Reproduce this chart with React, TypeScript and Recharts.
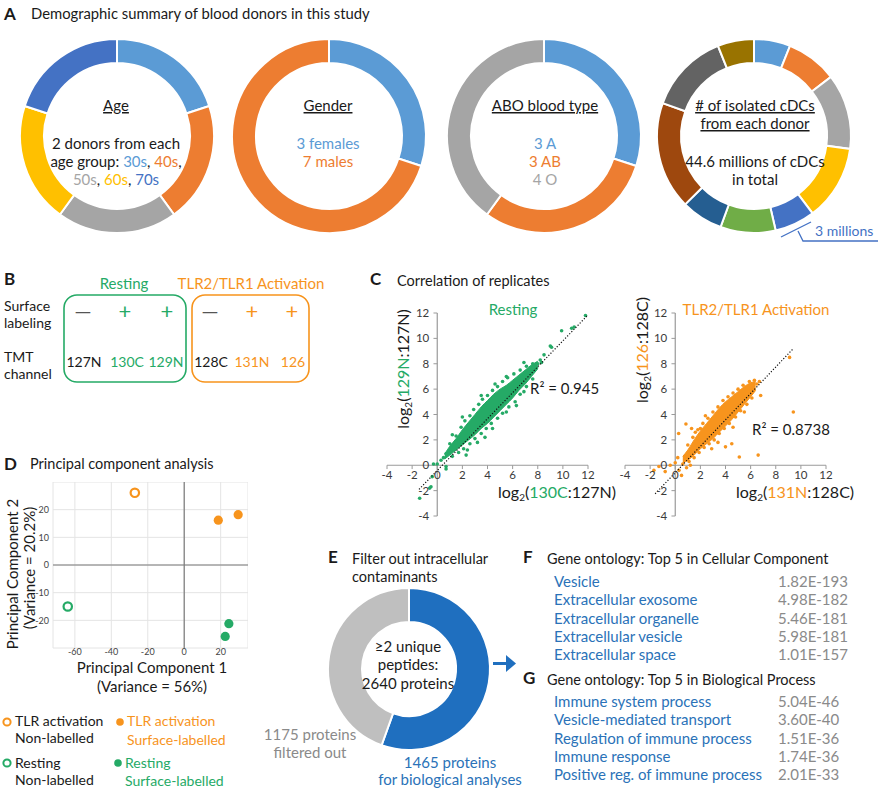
import React from 'react';
import {
  PieChart, Pie, Cell, ComposedChart, Area, Scatter, ScatterChart, XAxis, YAxis,
  ReferenceLine, ReferenceDot, CartesianGrid,
} from 'recharts';

// office palette used by the donuts
const OFFICE = ['#5B9BD5', '#ED7D31', '#A5A5A5', '#FFC000', '#4472C4', '#70AD47', '#255E91', '#9E480E', '#636363', '#997300'];
const GREEN = '#25AA66';
const ORANGE = '#F7941D';
const BLUE_TXT = '#2A72B8';
const GRAY_TXT = '#8A8A8A';

// A: donor demographics
const ageGroups = ['30s', '40s', '50s', '60s', '70s'];
const ageDonors = [2, 2, 2, 2, 2];
const genders = ['Female', 'Male'];
const genderCounts = [3, 7];
const bloodTypes = ['A', 'AB', 'O'];
const bloodCounts = [3, 3, 4];
const cdcDonors = ['D1', 'D2', 'D3', 'D4', 'D5', 'D6', 'D7', 'D8', 'D9', 'D10'];
const cdcMillions = [2.7, 3.8, 5.6, 5.6, 3.0, 4.1, 3.1, 8.0, 6.0, 2.7];

// C: correlation of replicates (dense core band + individual points)
const corrTicks = [-4, -2, 0, 2, 4, 6, 8, 10, 12];
const restingBand: [number, number, number][] = [
  [0.6, 0.5, 0.9], [1.0, 0.8, 1.5], [1.5, 1.2, 2.1], [2.0, 1.6, 2.8], [2.5, 2.0, 3.4], [3.0, 2.4, 4.0],
  [3.5, 2.9, 4.6], [4.0, 3.3, 5.1], [4.5, 3.8, 5.6], [5.0, 4.3, 6.0], [5.5, 4.8, 6.3], [6.0, 5.3, 6.7],
  [6.5, 5.9, 7.1], [7.0, 6.4, 7.5], [7.5, 7.0, 7.9], [8.0, 7.6, 8.2],
];
const restingPoints: [number, number][] = [
  [11.8, 11.8], [10.9, 10.9], [10.7, 10.8], [9.9, 10.6], [9.1, 9.3], [9.0, 9.4], [8.5, 8.7], [8.2, 8.3],
  [7.9, 7.7], [6.9, 8.1], [7.6, 8.0], [8.0, 8.0], [8.3, 8.1], [6.3, 4.7], [2.3, 0.8], [2.4, 1.2],
  [3.8, 2.2], [1.2, 2.4], [1.0, 1.7], [0.7, 0.9], [0.0, 0.1], [-0.3, 0.1], [0.7, -0.1], [-0.4, -0.9],
  [-0.6, -1.8], [-1.4, -2.6], [-0.5, -1.7], [0.7, -0.3], [0.3, 0.4], [0.5, 0.6],
  [1.5, 2.3], [1.9, 3.0], [2.2, 3.5], [2.6, 3.9], [2.9, 4.4], [3.3, 4.8], [3.6, 5.2], [4.0, 5.5],
  [4.4, 5.9], [4.8, 6.2], [5.2, 6.6], [5.6, 6.9], [6.1, 7.2], [6.6, 7.5], [7.1, 7.8], [2.0, 3.8],
  [3.5, 5.5], [4.6, 6.4], [5.5, 7.0],
  [1.2, 0.7], [1.7, 1.0], [2.1, 1.3], [2.6, 1.7], [3.0, 2.1], [3.5, 2.5], [3.9, 2.9], [4.3, 3.3],
  [4.8, 3.7], [5.2, 4.1], [5.7, 4.6], [6.2, 5.0], [6.6, 5.6], [7.1, 6.2], [7.6, 6.8], [3.2, 1.8],
  [4.4, 2.9], [5.5, 4.2], [6.9, 5.8],
];
const restingTrend: [number, number][] = [[-1.45, -1.9], [12.0, 11.85]];

const activationBand: [number, number, number][] = [
  [0.6, 0.2, 0.7], [1.0, 0.4, 1.2], [1.5, 0.8, 2.0], [2.0, 1.3, 2.7], [2.5, 1.7, 3.3], [3.0, 2.1, 3.9],
  [3.5, 2.6, 4.5], [4.0, 3.1, 5.0], [4.5, 3.6, 5.4], [5.0, 4.2, 5.8], [5.5, 4.8, 6.2], [6.0, 5.4, 6.5],
  [6.4, 5.9, 6.6],
];
const activationPoints: [number, number][] = [
  [9.1, 8.5], [9.4, 4.2], [6.6, 0.8], [5.1, 0.65], [6.7, 6.6], [6.5, 6.4], [6.8, 5.5], [0.85, 3.25],
  [0.27, 2.5], [1.6, 2.6], [2.0, 2.9], [-1.3, -0.1], [-1.7, -0.4], [0.3, -0.4], [0.5, -0.8], [-0.4, 0.0],
  [4.0, 1.45], [2.9, 1.3], [4.5, 1.7], [0.0, 0.2], [0.6, 0.1], [0.9, -0.2], [1.2, 0.0], [-0.8, -0.5], [0.2, 0.6],
  [1.0, 1.6], [1.4, 2.2], [1.8, 2.8], [2.2, 3.3], [2.6, 3.7], [3.0, 4.2], [3.4, 4.6], [3.8, 5.1],
  [4.2, 5.4], [4.6, 5.7], [5.0, 6.0], [5.4, 6.3], [5.9, 6.6], [6.3, 6.7], [1.3, 2.9], [2.4, 3.9],
  [1.1, 0.3], [1.5, 0.6], [1.9, 1.0], [2.3, 1.4], [2.7, 1.7], [3.1, 2.0], [3.5, 2.5], [3.9, 2.9],
  [4.3, 3.3], [4.8, 3.8], [5.2, 4.3], [5.7, 4.8], [6.1, 5.3], [3.4, 1.8], [4.6, 3.0], [5.5, 4.2],
];
const activationTrend: [number, number][] = [[-1.6, -2.25], [9.4, 9.2]];

// D: PCA
const pcaXTicks = [-60, -40, -20, 0, 20];
const pcaYTicks = [-20, -10, 0, 10, 20];
const pcaTlrNonLabelled = [{ x: -27.1, y: 26.1 }];
const pcaTlrSurface = [{ x: 18.7, y: 16.2 }, { x: 29.6, y: 18.2 }];
const pcaRestNonLabelled = [{ x: -63.9, y: -15.0 }];
const pcaRestSurface = [{ x: 24.5, y: -21.2 }, { x: 22.5, y: -25.8 }];

// E: protein filter
const proteinGroups = ['Biological analyses', 'Filtered out'];
const proteinCounts = [1465, 1175];

// F, G: gene ontology
const ccTerms = ['Vesicle', 'Extracellular exosome', 'Extracellular organelle', 'Extracellular vesicle', 'Extracellular space'];
const ccPvals = ['1.82E-193', '4.98E-182', '5.46E-181', '5.98E-181', '1.01E-157'];
const bpTerms = ['Immune system process', 'Vesicle-mediated transport', 'Regulation of immune process', 'Immune response', 'Positive reg. of immune process'];
const bpPvals = ['5.04E-46', '3.60E-40', '1.51E-36', '1.74E-36', '2.01E-33'];

function Donut({ cx, cy, inner, outer, names, values, colors }: {
  cx: number; cy: number; inner: number; outer: number; names: string[]; values: number[]; colors: string[];
}) {
  const size = outer * 2 + 10;
  const data = names.map((name, i) => ({ name, value: values[i] }));
  return (
    <div style={{ position: 'absolute', left: cx - size / 2, top: cy - size / 2 }}>
      <PieChart width={size} height={size} margin={{ top: 0, right: 0, bottom: 0, left: 0 }}>
        <Pie
          data={data}
          dataKey="value"
          cx="50%"
          cy="50%"
          innerRadius={inner}
          outerRadius={outer}
          startAngle={90}
          endAngle={-270}
          stroke="#fff"
          strokeWidth={2}
          isAnimationActive={false}
        >
          {data.map((d, i) => <Cell key={d.name} fill={colors[i % colors.length]} />)}
        </Pie>
      </PieChart>
    </div>
  );
}

function CorrChart({ left, top, color, band, points, trend }: {
  left: number; top: number; color: string; band: [number, number, number][];
  points: [number, number][]; trend: [number, number][];
}) {
  const m = 22;
  const w = 201;
  const h = 203;
  const data = band.map(([x, lo, hi]) => ({ x, band: [lo, hi] }));
  const pts = points.map(([x, y]) => ({ x, y }));
  const trendPts = trend.map(([x, y]) => ({ x, y }));
  const axisColor = '#9a9a9a';
  return (
    <div style={{ position: 'absolute', left: left - m, top: top - m }}>
      <ComposedChart width={w + 2 * m} height={h + 2 * m} data={data} margin={{ top: m, right: m, bottom: m, left: m }}>
        <XAxis type="number" dataKey="x" domain={[-4, 12]} hide allowDataOverflow />
        <YAxis type="number" dataKey="y" domain={[-4, 12]} hide allowDataOverflow />
        <ReferenceLine y={0} stroke={axisColor} strokeWidth={1.2} />
        <ReferenceLine x={0} stroke={axisColor} strokeWidth={1.2} />
        {corrTicks.map((t) => (
          <ReferenceLine key={'xt' + t} segment={[{ x: t, y: 0 }, { x: t, y: -0.3 }]} stroke={axisColor} />
        ))}
        {corrTicks.map((t) => (
          <ReferenceLine key={'yt' + t} segment={[{ x: 0, y: t }, { x: -0.3, y: t }]} stroke={axisColor} />
        ))}
        {corrTicks.map((t) => (
          <ReferenceDot key={'xl' + t} x={t} y={0} r={0} fill="none" stroke="none"
            label={{ value: String(t), position: 'bottom', offset: 6, fontSize: 11.5, fill: '#3a3a3a' }} />
        ))}
        {corrTicks.map((t) => (
          <ReferenceDot key={'yl' + t} x={0} y={t} r={0} fill="none" stroke="none"
            label={{ value: String(t), position: 'left', offset: 8, fontSize: 11.5, fill: '#3a3a3a' }} />
        ))}
        <Area dataKey="band" type="monotone" fill={color} fillOpacity={1} stroke={color} strokeWidth={1} isAnimationActive={false} />
        <Scatter data={pts} fill={color} isAnimationActive={false}
          shape={(p: any) => <circle cx={p.cx} cy={p.cy} r={1.8} fill={color} />} />
        <Scatter data={trendPts} isAnimationActive={false}
          line={{ stroke: '#111', strokeWidth: 1.2, strokeDasharray: '1.2 1.8' }}
          shape={() => <g />} />
      </ComposedChart>
    </div>
  );
}

function T({ x, y, s = 15, c = '#1a1a1a', a = 'start', w, u, r, children }: {
  x: number; y: number; s?: number; c?: string; a?: 'start' | 'middle' | 'end'; w?: number;
  u?: boolean; r?: boolean; children: React.ReactNode;
}) {
  return (
    <text x={x} y={y} fontSize={s} fill={c} textAnchor={a} fontWeight={w}
      textDecoration={u ? 'underline' : undefined}
      transform={r ? `rotate(-90 ${x} ${y})` : undefined}>
      {children}
    </text>
  );
}

function Log2({ x, y, a = 'start', r, hi, hiColor, rest }: {
  x: number; y: number; a?: 'start' | 'middle' | 'end'; r?: boolean; hi: string; hiColor: string; rest: string;
}) {
  return (
    <T x={x} y={y} a={a} r={r} s={16}>
      log<tspan fontSize={10} dy={3}>2</tspan><tspan dy={-3}>(</tspan>
      <tspan fill={hiColor}>{hi}</tspan>{rest}
    </T>
  );
}

export default function App() {
  const pcaDot = (fill: string, open: boolean) => (p: any) => (
    open
      ? <circle cx={p.cx} cy={p.cy} r={4.2} fill="#fff" stroke={fill} strokeWidth={2.2} />
      : <circle cx={p.cx} cy={p.cy} r={4.6} fill={fill} />
  );
  return (
    <div style={{
      position: 'absolute', left: 0, top: 0, width: 878, height: 789, background: '#fff',
      overflow: 'hidden', fontFamily: 'Lato, "Open Sans", sans-serif',
    }}>
      {/* A */}
      <Donut cx={117} cy={136} inner={73} outer={97} names={ageGroups} values={ageDonors} colors={OFFICE} />
      <Donut cx={329} cy={136} inner={73} outer={97} names={genders} values={genderCounts} colors={OFFICE} />
      <Donut cx={544} cy={136} inner={73} outer={97} names={bloodTypes} values={bloodCounts} colors={OFFICE} />
      <Donut cx={754} cy={136} inner={73} outer={97} names={cdcDonors} values={cdcMillions} colors={OFFICE} />

      {/* C */}
      <CorrChart left={387} top={313} color={GREEN} band={restingBand} points={restingPoints} trend={restingTrend} />
      <CorrChart left={625} top={313} color={ORANGE} band={activationBand} points={activationPoints} trend={activationTrend} />

      {/* D */}
      <div style={{ position: 'absolute', left: 28, top: 482 }}>
        <ScatterChart width={220} height={186} margin={{ top: 0, right: 0, bottom: 0, left: 0 }}>
          <CartesianGrid stroke="#e4e4e4" />
          <XAxis type="number" dataKey="x" domain={[-72, 35]} ticks={pcaXTicks} axisLine={false} tickLine={false}
            tickSize={0} tickMargin={1} height={20} tick={{ fontSize: 9, fill: '#444' }} />
          <YAxis type="number" dataKey="y" domain={[-30, 30]} ticks={pcaYTicks} axisLine={false} tickLine={false}
            tickSize={0} tickMargin={4} width={25} tick={{ fontSize: 9, fill: '#444' }} />
          <ReferenceLine x={0} stroke="#7a7a7a" strokeWidth={1.2} />
          <ReferenceLine y={0} stroke="#7a7a7a" strokeWidth={1.2} />
          <Scatter data={pcaTlrNonLabelled} isAnimationActive={false} shape={pcaDot(ORANGE, true)} />
          <Scatter data={pcaTlrSurface} isAnimationActive={false} shape={pcaDot(ORANGE, false)} />
          <Scatter data={pcaRestNonLabelled} isAnimationActive={false} shape={pcaDot(GREEN, true)} />
          <Scatter data={pcaRestSurface} isAnimationActive={false} shape={pcaDot(GREEN, false)} />
        </ScatterChart>
      </div>

      {/* E */}
      <Donut cx={408.5} cy={669} inner={47} outer={81} names={proteinGroups} values={proteinCounts} colors={['#1F6FBF', '#BFBFBF']} />

      <svg width={878} height={789} style={{ position: 'absolute', left: 0, top: 0, pointerEvents: 'none', fontFamily: 'Lato, "Open Sans", sans-serif' }}>
        {/* A texts */}
        <T x={4} y={20} s={17} w={700}>A</T>
        <T x={31} y={19} s={14.8}>Demographic summary of blood donors in this study</T>

        <T x={116} y={111} a="middle" u>Age</T>
        <T x={116} y={149} a="middle">2 donors from each</T>
        <T x={116} y={167} a="middle">age group: <tspan fill={OFFICE[0]}>30s</tspan>, <tspan fill={OFFICE[1]}>40s</tspan>,</T>
        <T x={116} y={185} a="middle"><tspan fill={OFFICE[2]}>50s</tspan>, <tspan fill={OFFICE[3]}>60s</tspan>, <tspan fill={OFFICE[4]}>70s</tspan></T>

        <T x={328} y={111} a="middle" u>Gender</T>
        <T x={328} y={149} a="middle" c={OFFICE[0]}>3 females</T>
        <T x={328} y={167} a="middle" c={OFFICE[1]}>7 males</T>

        <T x={545} y={111} a="middle" u>ABO blood type</T>
        <T x={545} y={149} a="middle" c={OFFICE[0]}>3 A</T>
        <T x={545} y={167} a="middle" c={OFFICE[1]}>3 AB</T>
        <T x={545} y={185} a="middle" c={OFFICE[2]}>4 O</T>

        <T x={755} y={111} a="middle" u># of isolated cDCs</T>
        <T x={755} y={129} a="middle" u>from each donor</T>
        <T x={755} y={167} a="middle">44.6 millions of cDCs</T>
        <T x={755} y={185} a="middle">in total</T>

        <polyline points="781,237 811,222" stroke="#4472C4" strokeWidth={1.3} fill="none" />
        <polyline points="798,231 803,241 878,241" stroke="#4472C4" strokeWidth={1.3} fill="none" />
        <T x={815} y={236} s={14} c="#4472C4">3 millions</T>

        {/* B */}
        <T x={4} y={285} s={17} w={700}>B</T>
        <T x={124} y={289} a="middle" c={GREEN}>Resting</T>
        <T x={251} y={289} a="middle" c={ORANGE}>TLR2/TLR1 Activation</T>
        <T x={4} y={311} s={14}>Surface</T>
        <T x={4} y={327.5} s={14}>labeling</T>
        <T x={4} y={362} s={14}>TMT</T>
        <T x={4} y={378.5} s={14}>channel</T>
        <rect x={64} y={295} width={122} height={87} rx={13} fill="none" stroke={GREEN} strokeWidth={1.6} />
        <rect x={192} y={295} width={117} height={87} rx={13} fill="none" stroke={ORANGE} strokeWidth={1.6} />
        <T x={83} y={319} a="middle" s={22} c="#555">—</T>
        <T x={125} y={319} a="middle" s={22} c={GREEN}>+</T>
        <T x={167} y={319} a="middle" s={22} c={GREEN}>+</T>
        <T x={210} y={319} a="middle" s={22} c="#555">—</T>
        <T x={252} y={319} a="middle" s={22} c={ORANGE}>+</T>
        <T x={292} y={319} a="middle" s={22} c={ORANGE}>+</T>
        <T x={84} y={367} a="middle" s={14}>127N</T>
        <T x={127} y={367} a="middle" s={14} c={GREEN}>130C</T>
        <T x={166} y={367} a="middle" s={14} c={GREEN}>129N</T>
        <T x={211} y={367} a="middle" s={14}>128C</T>
        <T x={252} y={367} a="middle" s={14} c={ORANGE}>131N</T>
        <T x={293} y={367} a="middle" s={14} c={ORANGE}>126</T>

        {/* C */}
        <T x={370} y={285} s={17} w={700}>C</T>
        <T x={397} y={286} s={14.5}>Correlation of replicates</T>
        <T x={513} y={315} a="middle" c={GREEN}>Resting</T>
        <T x={756} y={315} a="middle" c={ORANGE}>TLR2/TLR1 Activation</T>
        <T x={530} y={394}>R² = 0.945</T>
        <T x={752} y={435}>R² = 0.8738</T>
        <Log2 x={409} y={369} a="middle" r hi="129N" hiColor={GREEN} rest=":127N)" />
        <Log2 x={648} y={350} a="middle" r hi="126" hiColor={ORANGE} rest=":128C)" />
        <Log2 x={498} y={498} hi="130C" hiColor={GREEN} rest=":127N)" />
        <Log2 x={736} y={498} hi="131N" hiColor={ORANGE} rest=":128C)" />

        {/* D */}
        <T x={4} y={470} s={17} w={700}>D</T>
        <T x={30} y={469} s={14.5}>Principal component analysis</T>
        <T x={18} y={574} a="middle" r>Principal Component 2</T>
        <T x={35} y={568} a="middle" r>(Variance = 20.2%)</T>
        <T x={152} y={673} a="middle">Principal Component 1</T>
        <T x={152} y={692} a="middle">(Variance = 56%)</T>

        <circle cx={7} cy={722} r={3.6} fill="#fff" stroke={ORANGE} strokeWidth={2} />
        <T x={15} y={726} s={14}>TLR activation</T>
        <T x={15} y={742.5} s={14}>Non-labelled</T>
        <circle cx={120} cy={722} r={3.8} fill={ORANGE} />
        <T x={127} y={726} s={14} c={ORANGE}>TLR activation</T>
        <T x={127} y={745} s={14} c={ORANGE}>Surface-labelled</T>
        <circle cx={7} cy={763} r={3.6} fill="#fff" stroke={GREEN} strokeWidth={2} />
        <T x={15} y={767.5} s={14}>Resting</T>
        <T x={15} y={784.5} s={14}>Non-labelled</T>
        <circle cx={118} cy={763} r={3.8} fill={GREEN} />
        <T x={125} y={767.5} s={14} c={GREEN}>Resting</T>
        <T x={125} y={786} s={14} c={GREEN}>Surface-labelled</T>

        {/* E */}
        <T x={328} y={563} s={17} w={700}>E</T>
        <T x={352} y={564} s={14.5}>Filter out intracellular</T>
        <T x={352} y={582} s={14.5}>contaminants</T>
        <T x={408} y={652} a="middle">≥2 unique</T>
        <T x={408} y={670} a="middle">peptides:</T>
        <T x={408} y={689} a="middle">2640 proteins</T>
        <T x={310} y={740} a="middle" c={GRAY_TXT}>1175 proteins</T>
        <T x={310} y={758} a="middle" c={GRAY_TXT}>filtered out</T>
        <T x={450} y={768} a="middle" c={BLUE_TXT}>1465 proteins</T>
        <T x={450} y={785} a="middle" c={BLUE_TXT}>for biological analyses</T>
        <line x1={493} y1={663.5} x2={508} y2={663.5} stroke="#1F6FBF" strokeWidth={3} />
        <polygon points="506,655 516,663.5 506,672" fill="#1F6FBF" />

        {/* F */}
        <T x={523} y={563} s={17} w={700}>F</T>
        <T x={547} y={564} s={14.5}>Gene ontology: Top 5 in Cellular Component</T>
        {ccTerms.map((t, i) => (
          <T key={t} x={554} y={587 + i * 18.3} c={BLUE_TXT}>{t}</T>
        ))}
        {ccPvals.map((p, i) => (
          <T key={'cp' + i} x={778} y={587 + i * 18.3} c={GRAY_TXT}>{p}</T>
        ))}

        {/* G */}
        <T x={523} y={684} s={17} w={700}>G</T>
        <T x={547} y={685} s={14.5}>Gene ontology: Top 5 in Biological Process</T>
        {bpTerms.map((t, i) => (
          <T key={t} x={554} y={707 + i * 18.3} c={BLUE_TXT}>{t}</T>
        ))}
        {bpPvals.map((p, i) => (
          <T key={'bp' + i} x={778} y={707 + i * 18.3} c={GRAY_TXT}>{p}</T>
        ))}
      </svg>
    </div>
  );
}
